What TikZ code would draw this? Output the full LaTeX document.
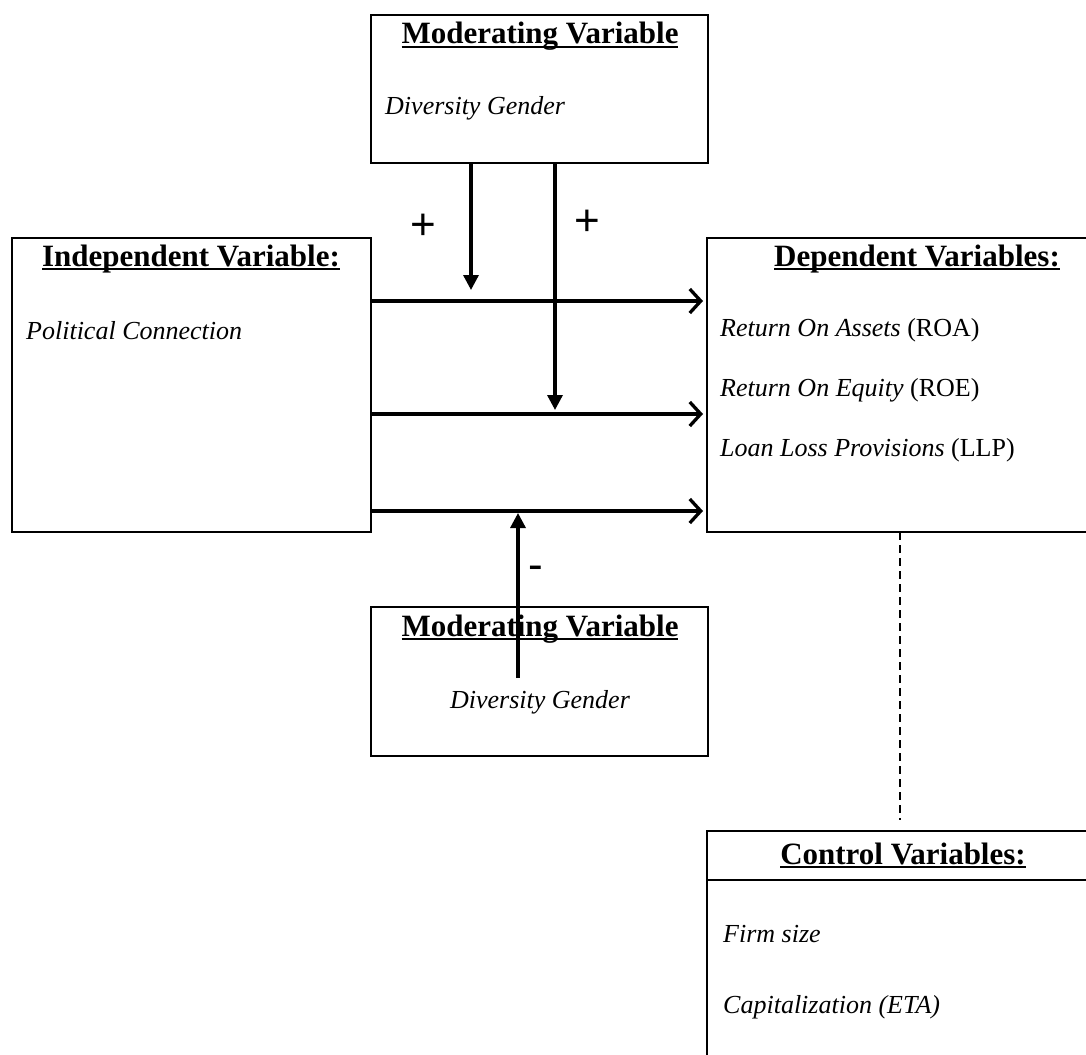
\documentclass[tikz,border=0pt]{standalone}
\usepackage{fontspec}
\setmainfont{Liberation Serif}
\newfontfamily\signfont{Liberation Sans}
\usetikzlibrary{arrows.meta,positioning}
\newcommand{\hd}[1]{\sbox0{#1}\rlap{#1}\rule[-4pt]{\wd0}{1.8pt}}

\begin{document}
\begin{tikzpicture}[
    x=1pt, y=-1pt,
    box/.style={draw, line width=2pt, inner sep=0pt, outer sep=0pt},
    head/.style={anchor=base, inner sep=0pt, font=\fontsize{31}{36}\selectfont\bfseries},
    item/.style={anchor=base west, inner sep=0pt, font=\fontsize{26}{30}\selectfont},
    sign/.style={anchor=base, inner sep=0pt, font=\fontsize{44}{44}\signfont},
    harrow/.style={-{Straight Barb[length=11pt,width=24pt]}, line width=3.3pt, shorten >=4pt},
    varrow/.style={-{Triangle[length=15pt,width=15pt]}, line width=3.3pt},
    link/.style={line width=1.3pt, dash pattern=on 8pt off 5pt}
  ]
    \useasboundingbox (0,0) rectangle (1086,1054);
    \clip (0,0) rectangle (1086,1054);

    \node[box, minimum width=337pt, minimum height=148pt] (modtop) at (539.5,89) {};
    \node[box, minimum width=359pt, minimum height=294pt] (indep) at (191.5,385) {};
    \node[box, minimum width=420pt, minimum height=294pt] (dep) at (917,385) {};
    \node[box, minimum width=337pt, minimum height=149pt] (modbot) at (539.5,681.5) {};
    \node[box, minimum width=393pt, minimum height=249pt] (ctrl) at (903.5,955.5) {};

    \node[head] (modtophd) at (540,44) {\hd{Moderating Variable}};
    \node[item] (modtopdg) at (385,115) {\textit{Diversity Gender}};
    \node[head] (indephd) at (191,266) {\hd{Independent Variable:}};
    \node[item] (polcon) at (26,339) {\textit{Political Connection}};
    \node[head] (dephd) at (917,266) {\hd{Dependent Variables:}};
    \node[item] (roa) at (720,336) {\textit{Return On Assets} (ROA)};
    \node[item] (roe) at (720,396) {\textit{Return On Equity} (ROE)};
    \node[item] (llp) at (720,456) {\textit{Loan Loss Provisions} (LLP)};
    \node[head] (modbothd) at (540,636) {\hd{Moderating Variable}};
    \node[item, anchor=base] (modbotdg) at (540,708) {\textit{Diversity Gender}};
    \node[head] (ctrlhd) at (903,864) {\hd{Control Variables:}};
    \node[item] (size) at (723,942) {\textit{Firm size}};
    \node[item] (eta) at (723,1013) {\textit{Capitalization (ETA)}};

    \node[sign] (plus1) at (423,239) {+};
    \node[sign] (plus2) at (587,235) {+};
    \node[sign] (minus) at (536,579) {-};

    \coordinate (r1) at (0,301);
    \coordinate (r2) at (0,414);
    \coordinate (r3) at (0,511);
    \coordinate (t1) at (471,290);
    \coordinate (t2) at (555,410);
    \coordinate (t3) at (518,513);
    \coordinate (b3) at (518,678);
    \coordinate (d1) at (900,820);
    \coordinate (sep) at (0,880);

    \draw[harrow] (indep.east |- r1) -- (dep.west |- r1);
    \draw[harrow] (indep.east |- r2) -- (dep.west |- r2);
    \draw[harrow] (indep.east |- r3) -- (dep.west |- r3);
    \draw[varrow] (modtop.south -| t1) -- (t1);
    \draw[varrow] (modtop.south -| t2) -- (t2);
    \draw[varrow] (b3) -- (t3);
    \draw[link] (dep.south -| d1) -- (d1);
    \draw[line width=2pt] (ctrl.west |- sep) -- (ctrl.east |- sep);
  \end{tikzpicture}
\end{document}
